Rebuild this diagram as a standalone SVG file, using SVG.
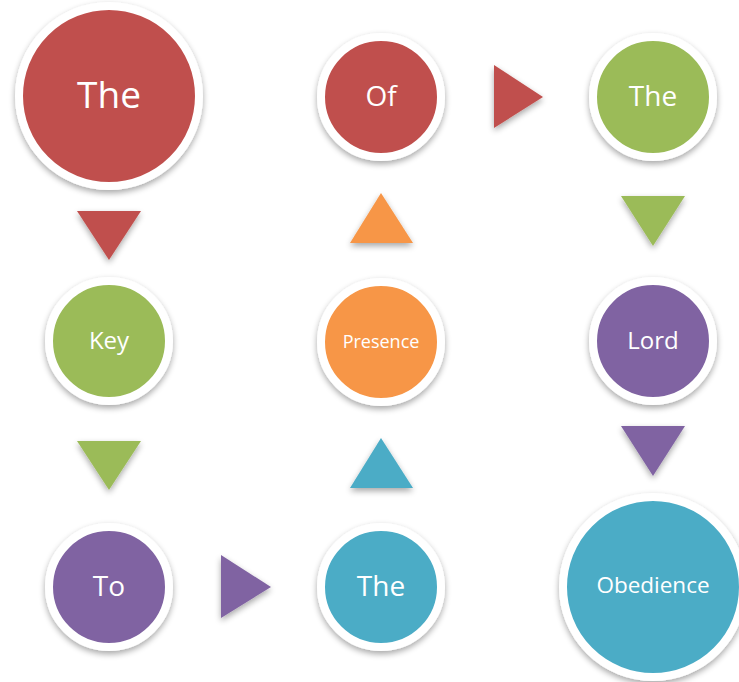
<svg xmlns="http://www.w3.org/2000/svg" width="739" height="682" viewBox="0 0 739 682">
<defs>
<filter id="sh" x="-30%" y="-30%" width="160%" height="170%">
<feGaussianBlur in="SourceAlpha" stdDeviation="3"/>
<feOffset dx="0" dy="3" result="b"/>
<feComponentTransfer><feFuncA type="linear" slope="0.35"/></feComponentTransfer>
<feMerge><feMergeNode/><feMergeNode in="SourceGraphic"/></feMerge>
</filter>
<style>
.c{stroke:#fff;stroke-width:8;filter:url(#sh)}
.t{fill:#fff;font-family:"Open Sans","Noto Sans","DejaVu Sans",sans-serif;text-anchor:middle}
.red{fill:#C0504D}.grn{fill:#9BBB59}.pur{fill:#8064A2}.tea{fill:#4BACC6}.org{fill:#F79646}
.a{filter:url(#sh)}
</style>
</defs>
<rect width="739" height="682" fill="#fff"/>
<g id="connectors">
<polygon class="a red" points="77,211 141,211 109,260"/>
<polygon class="a grn" points="77,441 141,441 109,490"/>
<polygon class="a pur" points="221,555 221,618 271,587"/>
<polygon class="a tea" points="350,488 413,488 381,438"/>
<polygon class="a org" points="350,243 413,243 381,193"/>
<polygon class="a red" points="494,65 494,128 543,97"/>
<polygon class="a grn" points="621,196 685,196 653,246"/>
<polygon class="a pur" points="621,426 685,426 653,476"/>
</g>
<g id="n-the1"><circle class="c red" cx="109" cy="96" r="90"/><text class="t" x="109" y="108" font-size="37">The</text></g>
<g id="n-key"><circle class="c grn" cx="109" cy="341" r="60"/><text class="t" x="109" y="349" font-size="24">Key</text></g>
<g id="n-to"><circle class="c pur" cx="109" cy="587" r="60"/><text class="t" x="109" y="596" font-size="28">To</text></g>
<g id="n-the2"><circle class="c tea" cx="381" cy="587" r="60"/><text class="t" x="381" y="596" font-size="28">The</text></g>
<g id="n-presence"><circle class="c org" cx="381" cy="342" r="60"/><text class="t" x="381" y="348" font-size="18">Presence</text></g>
<g id="n-of"><circle class="c red" cx="381" cy="97" r="60"/><text class="t" x="381" y="106" font-size="28">Of</text></g>
<g id="n-the3"><circle class="c grn" cx="653" cy="97" r="60"/><text class="t" x="653" y="106" font-size="28">The</text></g>
<g id="n-lord"><circle class="c pur" cx="653" cy="341" r="60"/><text class="t" x="653" y="349" font-size="24">Lord</text></g>
<g id="n-obedience"><circle class="c tea" cx="653" cy="587" r="90"/><text class="t" x="653" y="593" font-size="22.5">Obedience</text></g>
</svg>
